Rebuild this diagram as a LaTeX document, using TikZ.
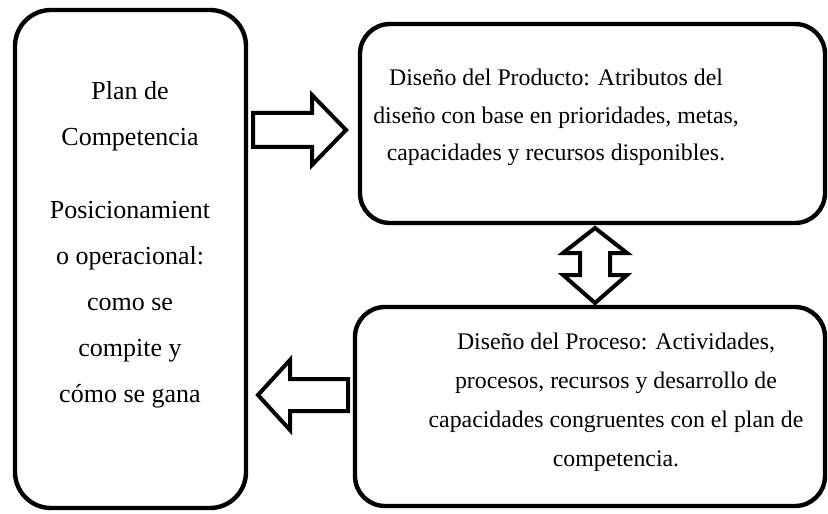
\documentclass[tikz,border=0pt]{standalone}
\usepackage{fontspec}
\setmainfont{Liberation Serif}
\usetikzlibrary{positioning}

\begin{document}
\begin{tikzpicture}[x=0.5pt,y=-0.5pt,
  caja/.style={draw, line width=2.2pt, rounded corners=15pt, inner sep=0pt},
  texto/.style={align=center, inner sep=0pt, anchor=base},
  flecha/.style={draw, line width=2pt, fill=white, line join=miter}]
\useasboundingbox (0,0) rectangle (828,513);
% cajas
\node[caja, rounded corners=18pt, minimum width=115.5pt, minimum height=249pt] (plan) at (130.5,259) {};
\node[caja, minimum width=232.5pt, minimum height=99.5pt] (producto) at (592.5,123.5) {};
\node[caja, minimum width=235pt, minimum height=99.5pt] (proceso) at (590,406.5) {};
% textos (anchor base = ultima linea)
\node[texto, font=\fontsize{13}{23}\selectfont] (planTxt) at (130,402)
  {Plan de\\Competencia\\[13.5pt]Posicionamient\\o operacional:\\como se\\compite y\\cómo se gana};
\node[texto, font=\fontsize{11.9}{18.75}\selectfont] (productoTxt) at (556,161)
  {Diseño del Producto: Atributos del\\diseño con base en prioridades, metas,\\capacidades y recursos disponibles.};
\node[texto, font=\fontsize{11.9}{19.5}\selectfont] (procesoTxt) at (616,466)
  {Diseño del Proceso: Actividades,\\procesos, recursos y desarrollo de\\capacidades congruentes con el plan de\\competencia.};
% flechas
\draw[flecha] (253,113) -- (312,113) -- (312,95) -- (346,130) -- (312,165) -- (312,147) -- (253,147) -- cycle;
\draw[flecha] (348,379) -- (290,379) -- (290,360) -- (258,395) -- (290,430) -- (290,411) -- (348,411) -- cycle;
\draw[flecha] (595,228) -- (627,253) -- (610,253) -- (610,275) -- (627,275) -- (595,303)
  -- (563,275) -- (580,275) -- (580,253) -- (563,253) -- cycle;
\end{tikzpicture}
\end{document}
